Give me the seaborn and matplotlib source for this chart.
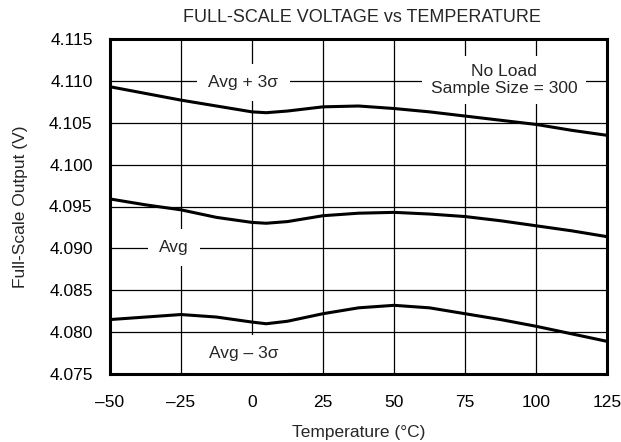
import matplotlib
matplotlib.use("Agg")
import matplotlib.pyplot as plt
import seaborn as sns
import pandas as pd

temps = [-50, -37.5, -25, -12.5, 0, 5, 12.5, 25, 37.5, 50, 62.5, 75, 87.5, 100, 112.5, 125]
upper = [4.1093, 4.1085, 4.1077, 4.1070, 4.1063, 4.1062, 4.1064, 4.1069, 4.1070, 4.1067,
         4.1063, 4.1058, 4.1053, 4.1048, 4.1041, 4.1035]
avg = [4.0959, 4.0952, 4.0946, 4.0937, 4.0931, 4.0930, 4.0932, 4.0939, 4.0942, 4.0943,
       4.0941, 4.0938, 4.0933, 4.0927, 4.0921, 4.0914]
lower = [4.0815, 4.0818, 4.0821, 4.0818, 4.0812, 4.0810, 4.0813, 4.0822, 4.0829, 4.0832,
         4.0829, 4.0822, 4.0815, 4.0807, 4.0798, 4.0789]
series_names = ["Avg + 3σ", "Avg", "Avg – 3σ"]
x_ticks = [-50, -25, 0, 25, 50, 75, 100, 125]
x_ticklabels = ["–50", "–25", "0", "25", "50", "75", "100", "125"]
y_ticks = [4.075, 4.080, 4.085, 4.090, 4.095, 4.100, 4.105, 4.110, 4.115]

df = pd.concat([
    pd.DataFrame({"T": temps, "V": upper, "s": series_names[0]}),
    pd.DataFrame({"T": temps, "V": avg, "s": series_names[1]}),
    pd.DataFrame({"T": temps, "V": lower, "s": series_names[2]}),
])

sns.set_style("white")
plt.rcParams["font.family"] = ["Liberation Sans", "DejaVu Sans"]

fig = plt.figure(figsize=(6.21, 4.42), dpi=100)
ax = fig.add_axes([110/621, 1 - 374/442, 497/621, 335/442])

sns.lineplot(data=df, x="T", y="V", units="s", estimator=None, color="black",
             linewidth=2.2, ax=ax, legend=False, zorder=3)

ax.set_xlim(-50, 125)
ax.set_ylim(4.075, 4.115)
ax.set_xticks(x_ticks)
ax.set_xticklabels(x_ticklabels)
ax.set_yticks(y_ticks)
ax.set_yticklabels([f"{v:.3f}" for v in y_ticks])
ax.grid(True, color="black", linewidth=0.9)
ax.tick_params(axis="both", length=0, labelsize=12.5, colors="black")
ax.tick_params(axis="x", pad=15)
ax.tick_params(axis="y", pad=12.5)
for sp in ax.spines.values():
    sp.set_color("black")
    sp.set_linewidth(2.2)
    sp.set_zorder(4)

ax.set_xlabel("Temperature (°C)", fontsize=12.5, labelpad=11)
ax.set_ylabel("Full-Scale Output (V)", fontsize=12.5, labelpad=15)
fig.text(362/621, 1 - 17/442, "FULL-SCALE VOLTAGE vs TEMPERATURE", fontsize=13,
         ha="center", va="center")

box = dict(facecolor="white", edgecolor="none", pad=8)
fs = 12.5
ax.text(-3, 4.1098, series_names[0], ha="center", va="center", fontsize=fs, bbox=box, zorder=5)
ax.text(-27.5, 4.0901, series_names[1], ha="center", va="center", fontsize=fs, bbox=box, zorder=5)
ax.text(-3, 4.0774, series_names[2], ha="center", va="center", fontsize=fs, bbox=box, zorder=5)
ax.text(88.7, 4.1101, "No Load\nSample Size = 300", ha="center", va="center", fontsize=fs,
        bbox=dict(facecolor="white", edgecolor="none", pad=6), zorder=5, linespacing=1.15)

fig.savefig("out.png", dpi=100)
